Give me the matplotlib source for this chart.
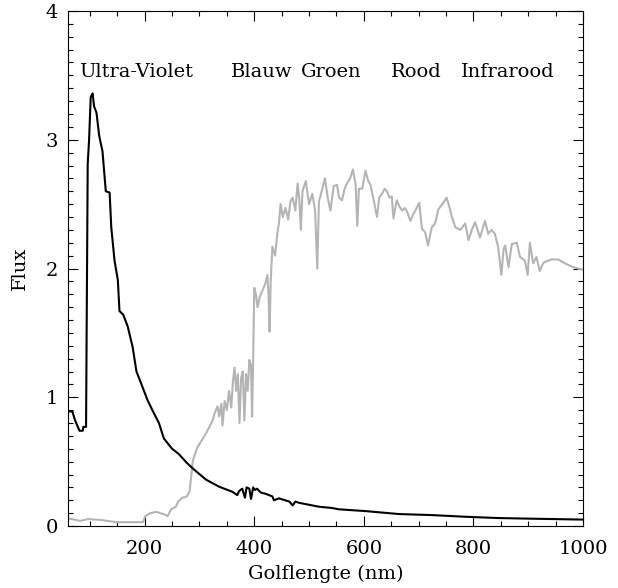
#!/usr/bin/env python3
import matplotlib
matplotlib.use("Agg")
import matplotlib.pyplot as plt
import matplotlib.ticker as mtick

# black curve
bx = [60, 68, 73, 81, 87, 88, 93, 94, 96, 98.5, 101.5, 105, 107.6, 112, 117, 123,
      129, 136, 139, 145, 151, 154, 161, 169, 178, 185, 196, 205, 214, 226, 235,
      250, 262, 277, 287, 298, 312, 336, 360, 369, 372, 378, 383, 386, 391, 394,
      398, 401, 405, 412, 421, 433, 436, 445, 464, 470, 475, 482, 518, 542, 554,
      603, 664, 724, 785, 845, 906, 1000]
by = [0.89, 0.89, 0.82, 0.74, 0.74, 0.77, 0.77, 1.47, 2.81, 3.0, 3.33, 3.36, 3.26,
      3.21, 3.03, 2.91, 2.60, 2.59, 2.32, 2.06, 1.91, 1.67, 1.64, 1.55, 1.39, 1.20,
      1.08, 0.98, 0.90, 0.80, 0.68, 0.60, 0.56, 0.49, 0.45, 0.41, 0.36, 0.305,
      0.266, 0.24, 0.27, 0.29, 0.22, 0.30, 0.29, 0.21, 0.30, 0.28, 0.29, 0.26,
      0.25, 0.23, 0.20, 0.215, 0.19, 0.16, 0.19, 0.18, 0.15, 0.14, 0.13, 0.116,
      0.093, 0.085, 0.072, 0.062, 0.057, 0.05]

# grey curve
gx = [60, 82, 97, 120, 148, 197, 201, 210, 221, 236, 242, 248, 257, 261, 269, 277,
      282, 288, 296, 312, 324, 328, 333, 336, 340, 342, 346, 350, 354, 358, 361,
      364, 367, 370, 373, 376, 379, 382, 385, 388, 391, 394, 396, 398, 400, 403,
      406, 410, 415, 420, 424, 426, 428, 430, 433, 438, 442, 445, 448, 452, 457,
      462, 466, 470, 475, 479, 482, 485, 488, 494, 500, 506, 511, 515, 518, 523,
      529, 534, 539, 545, 551, 555, 560, 565, 569, 575, 580, 585, 588, 591, 597,
      603, 608, 612, 618, 624, 628, 633, 638, 642, 647, 651, 654, 660, 665, 670,
      675, 679, 685, 690, 694, 701, 706, 712, 717, 724, 730, 736, 745, 751, 756,
      760, 767, 776, 785, 791, 797, 803, 812, 821, 827, 833, 839, 845, 851, 855,
      858, 864, 870, 879, 885, 894, 899, 903, 909, 915, 921, 927, 930, 942, 955,
      967, 982, 1000]
gy = [0.06, 0.04, 0.054, 0.047, 0.03, 0.03, 0.077, 0.10, 0.11, 0.09, 0.077, 0.13,
      0.15, 0.19, 0.22, 0.23, 0.27, 0.51, 0.61, 0.72, 0.82, 0.88, 0.93, 0.85, 0.95,
      0.78, 0.97, 0.90, 1.05, 0.92, 1.12, 1.23, 1.05, 1.18, 0.80, 1.15, 1.20, 0.82,
      1.18, 1.05, 1.29, 1.25, 0.85, 1.30, 1.85, 1.80, 1.70, 1.78, 1.83, 1.88, 1.95,
      1.80, 1.51, 1.90, 2.17, 2.10, 2.27, 2.35, 2.50, 2.40, 2.47, 2.38, 2.52, 2.55,
      2.45, 2.66, 2.55, 2.30, 2.60, 2.68, 2.50, 2.58, 2.45, 2.00, 2.52, 2.60, 2.70,
      2.55, 2.45, 2.64, 2.65, 2.55, 2.53, 2.62, 2.66, 2.70, 2.77, 2.65, 2.33, 2.62,
      2.62, 2.76, 2.68, 2.65, 2.53, 2.40, 2.55, 2.58, 2.62, 2.60, 2.55, 2.56, 2.39,
      2.53, 2.48, 2.45, 2.47, 2.44, 2.37, 2.42, 2.45, 2.51, 2.31, 2.28, 2.18, 2.32,
      2.35, 2.46, 2.51, 2.55, 2.48, 2.41, 2.32, 2.30, 2.35, 2.22, 2.30, 2.36, 2.24,
      2.37, 2.27, 2.30, 2.27, 2.17, 1.95, 2.15, 2.18, 2.01, 2.19, 2.20, 2.09, 2.06,
      1.95, 2.20, 2.04, 2.09, 1.98, 2.04, 2.05, 2.07, 2.07, 2.04, 2.01, 1.99]

band_names = ["Ultra-Violet", "Blauw", "Groen", "Rood", "Infrarood"]
band_x = [80, 358, 485, 649, 778]
band_y = 3.49

plt.rcParams['font.family'] = ['DejaVu Serif']
plt.rcParams['font.size'] = 14

fig = plt.figure(figsize=(6.18, 5.88), dpi=100)
ax = fig.add_axes([0.110, 0.1054, 0.8334, 0.8759])

ax.plot(gx, gy, color='#b4b4b4', lw=1.5)
ax.plot(bx, by, color='black', lw=1.5)

for name, x in zip(band_names, band_x):
    ax.text(x, band_y, name, ha='left', va='baseline', fontsize=14)

ax.set_xlim(60, 1000)
ax.set_ylim(0, 4)
ax.xaxis.set_major_locator(mtick.MultipleLocator(200))
ax.xaxis.set_minor_locator(mtick.MultipleLocator(50))
ax.yaxis.set_major_locator(mtick.MultipleLocator(1))
ax.yaxis.set_minor_locator(mtick.MultipleLocator(0.1))
ax.tick_params(which='both', direction='in', top=True, right=True, width=0.8)
ax.tick_params(which='major', length=7)
ax.tick_params(which='minor', length=3.5)
ax.tick_params(axis='x', which='major', pad=10)
ax.tick_params(axis='y', which='major', pad=7)
for s in ax.spines.values():
    s.set_linewidth(0.8)

ax.set_xlabel('Golflengte (nm)', labelpad=5)
ax.set_ylabel('Flux', labelpad=12)

fig.savefig('out.png', dpi=100)
